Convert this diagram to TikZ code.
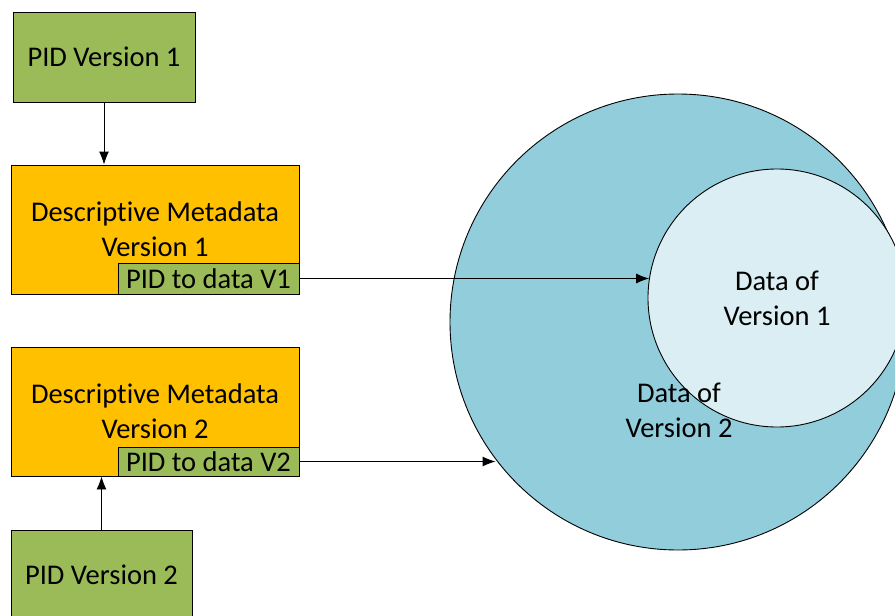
\documentclass[tikz,border=0pt]{standalone}
\usepackage{fontspec}
\setmainfont{Carlito}[Ligatures={NoCommon}]
\usepackage{tikz}
\usetikzlibrary{calc,arrows.meta}
\usepackage{xcolor}
\definecolor{pidgreen}{HTML}{9BBB59}
\definecolor{metaorange}{HTML}{FFC000}
\definecolor{datablue}{HTML}{92CDDC}
\definecolor{datalight}{HTML}{DAEEF3}

\begin{document}
\begin{tikzpicture}[x=1pt,y=-1pt,font=\fontsize{28.5}{35}\selectfont, line width=0.9pt]
      \tikzstyle{pid node}=[rectangle,draw,fill=pidgreen,inner sep=0]
      \tikzstyle{meta node}=[rectangle,draw,fill=metaorange,inner sep=0,minimum width=288,minimum height=129,align=center]
      \tikzstyle{link node}=[rectangle,draw,fill=pidgreen,inner sep=0,minimum width=181]
      \tikzstyle{data node}=[circle,draw,inner sep=0]
      \tikzstyle{arrow}=[-{Latex[length=13pt,width=10pt]}]
      \clip (0,0) rectangle (895,616);
      % data sets
      \node(big)[data node,fill=datablue,minimum size=456]at(678,322){};
      \node(small)[data node,fill=datalight,minimum size=258,align=center]at(777,298){Data of\\Version 1};
      \node(t2)[align=center]at(679,410){Data of\\Version 2};
      % version 1
      \node(pid1)[pid node,minimum width=182,minimum height=90]at(104,57){PID Version 1};
      \node(dm1)[meta node]at(155,229.5){Descriptive Metadata\\Version 1};
      \node(p1)[link node,minimum height=31]at(208.5,278.5){PID to data V1};
      % version 2
      \node(dm2)[meta node]at(155,411.5){Descriptive Metadata\\Version 2};
      \node(p2)[link node,minimum height=29]at(208.5,461.5){PID to data V2};
      \node(pid2)[pid node,minimum width=181,minimum height=90]at(101.5,575){PID Version 2};
      % connectors
      \draw[arrow] (pid1.south) -- (pid1.south |- dm1.north);
      \draw[arrow] (pid2.north) -- (pid2.north |- dm2.south);
      \draw[arrow] (p1.east) -- (p1.east -| small.171.5);
      \draw[arrow] (p2.east) -- (p2.east -| big.217.6);
\end{tikzpicture}
\end{document}
